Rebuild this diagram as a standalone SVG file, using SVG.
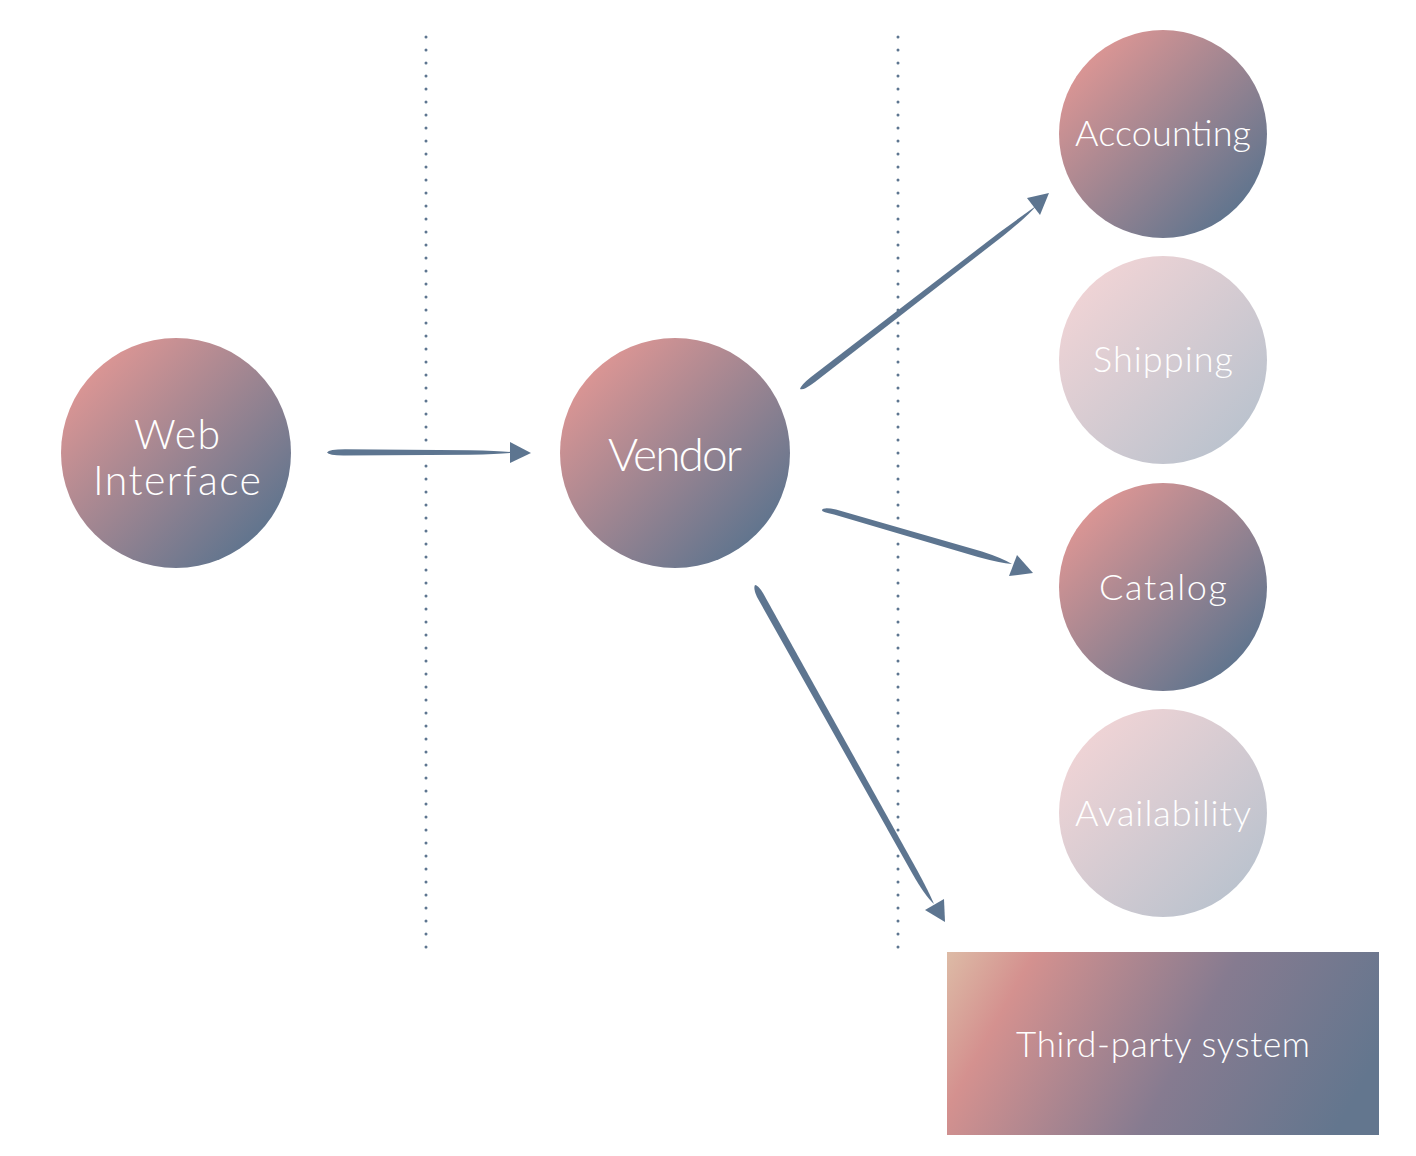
<svg xmlns="http://www.w3.org/2000/svg" width="1416" height="1156" viewBox="0 0 1416 1156">
<defs>
<style>
.lbl{font-family:"Lato","Open Sans","Liberation Sans",sans-serif;font-weight:300;fill:#ffffff;text-anchor:middle}
.dot{stroke:#5d7590;stroke-width:3;stroke-linecap:round;stroke-dasharray:0 13;fill:none}
.stroke{fill:#5d7590}
.head{fill:#5d7590}
</style>
<linearGradient id="gStrong" x1="0.15" y1="0.15" x2="0.85" y2="0.85">
<stop offset="0" stop-color="#d99594"/>
<stop offset="1" stop-color="#62758e"/>
</linearGradient>
<linearGradient id="gFaint" x1="0.15" y1="0.15" x2="0.85" y2="0.85">
<stop offset="0" stop-color="#eed3d5"/>
<stop offset="1" stop-color="#bcc3ce"/>
</linearGradient>
<linearGradient id="gRect" gradientUnits="userSpaceOnUse" x1="947" y1="952" x2="1320" y2="1160">
<stop offset="0" stop-color="#ddbba6"/>
<stop offset="0.18" stop-color="#d4918f"/>
<stop offset="0.6" stop-color="#867b90"/>
<stop offset="1" stop-color="#63768e"/>
</linearGradient>
</defs>
<rect width="1416" height="1156" fill="#ffffff"/>
<g id="dividers">
<line class="dot" x1="426" y1="37" x2="426" y2="950"/>
<line class="dot" x1="898" y1="37" x2="898" y2="950"/>
</g>
<g id="web-interface">
<circle cx="176" cy="453" r="115" fill="url(#gStrong)"/>
<text class="lbl" x="177" y="449" font-size="41" textLength="86">Web</text>
<text class="lbl" x="177" y="495" font-size="41" textLength="168">Interface</text>
</g>
<g id="vendor">
<circle cx="675" cy="453" r="115" fill="url(#gStrong)"/>
<text class="lbl" x="675" y="471" font-size="46" textLength="134">Vendor</text>
</g>
<g id="accounting">
<circle cx="1163" cy="134" r="104" fill="url(#gStrong)"/>
<text class="lbl" x="1163" y="146" font-size="36" textLength="176">Accounting</text>
</g>
<g id="shipping">
<circle cx="1163" cy="360" r="104" fill="url(#gFaint)"/>
<text class="lbl" x="1163" y="372" font-size="36" textLength="140">Shipping</text>
</g>
<g id="catalog">
<circle cx="1163" cy="587" r="104" fill="url(#gStrong)"/>
<text class="lbl" x="1163" y="600" font-size="36" textLength="128">Catalog</text>
</g>
<g id="availability">
<circle cx="1163" cy="813" r="104" fill="url(#gFaint)"/>
<text class="lbl" x="1163" y="826" font-size="36" textLength="176">Availability</text>
</g>
<g id="third-party-system">
<rect x="947" y="952" width="432" height="183" fill="url(#gRect)"/>
<text class="lbl" x="1163" y="1057" font-size="35" textLength="294">Third-party system</text>
</g>
<g id="connectors">
<path class="stroke" d="M327 452.5 Q329 449.3 345 449.3 L470 450.3 Q502 450.8 514 452.5 Q502 454.2 470 454.7 L345 455.5 Q329 455.7 327 452.5 Z"/>
<polygon class="head" points="510,442 531,453 510,463"/>
<path class="stroke" d="M800 389 Q801 385 811 377 L1000 232 Q1026 213 1036 206 Q1028 216 1003 236 L815 382 Q803 391 800 389 Z"/>
<polygon class="head" points="1027,198 1049,193 1040,215"/>
<path class="stroke" d="M822 510 Q823 507 836 509.5 L982 551.5 Q1002 558 1012 564 Q1000 563 978 557 L834 514.5 Q821 512 822 510 Z"/>
<polygon class="head" points="1017,555 1033,573 1009,576"/>
<path class="stroke" d="M755 585 Q758 585 763 593 L917 870 Q929 892 934 904 Q925 896 912 873 L757 597 Q753 588 755 585 Z"/>
<polygon class="head" points="925,910 944,899 945,922"/>
</g>
</svg>
